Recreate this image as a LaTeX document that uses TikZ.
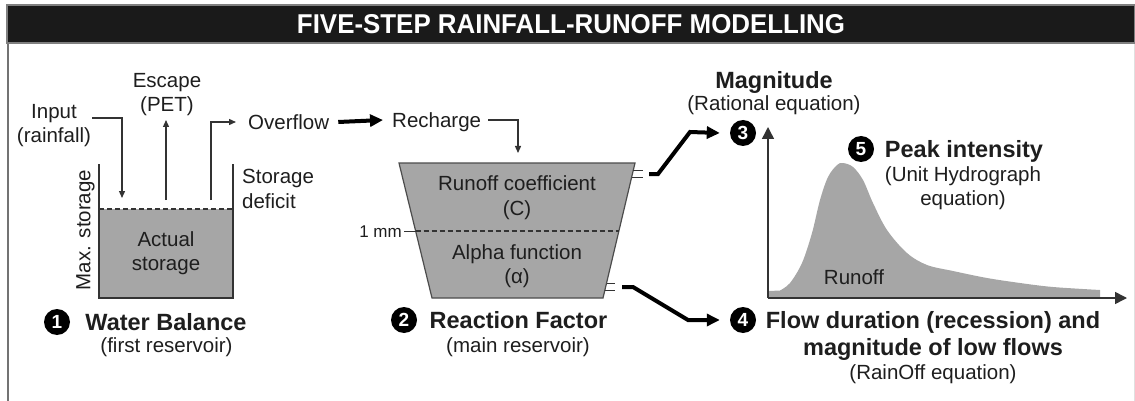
\documentclass[tikz,border=0pt]{standalone}
\usepackage{fontspec}
\setmainfont{Liberation Sans}
\usetikzlibrary{arrows.meta}
\definecolor{txt}{HTML}{1E1E1E}
\definecolor{ln}{HTML}{333333}
\definecolor{fillg}{HTML}{A6A6A6}
\definecolor{barc}{HTML}{1A1A1A}
\tikzset{
  lbl/.style={text=txt, font=\fontsize{20.5}{24.5}\selectfont, inner sep=0pt, align=center},
  one/.style={text height=18pt, text depth=3.3pt},
  hdr/.style={text=txt, font=\fontsize{23.5}{27}\selectfont\bfseries, inner sep=0pt, align=center},
  hone/.style={text height=20pt, text depth=3.2pt},
  smalllbl/.style={text=txt, font=\fontsize{17}{20}\selectfont, inner sep=0pt, text height=14pt, text depth=2pt},
  numc/.style={circle, fill=black, text=white, font=\fontsize{19}{19}\selectfont\bfseries, inner sep=0pt, minimum size=26pt},
  thinln/.style={draw=ln, line width=1.3pt},
  thinarrow/.style={thinln, -{Triangle[length=7pt,width=6pt]}},
  thickln/.style={draw=black, line width=4pt},
  thickarrow/.style={thickln, -{Triangle[length=13pt,width=12pt]}},
  axisarrow/.style={draw=ln, line width=1.5pt, -{Triangle[length=12pt,width=12pt]}},
}
\begin{document}
\begin{tikzpicture}[x=1pt,y=-1pt]
\useasboundingbox (0,0) rectangle (1135,401);
% frame
\draw[draw=gray!90!black, line width=2pt] (8,43) -- (8,401);
\draw[draw=black!12, line width=1pt] (1134.5,43) -- (1134.5,401);
\node[draw=gray, line width=1.5pt, fill=barc, minimum width=1128pt, minimum height=38pt, inner sep=0pt] (bar) at (571,24) {};
\node[text=white, inner sep=0pt] (title) at (bar.center)
  {\resizebox{548pt}{19pt}{\bfseries FIVE-STEP RAINFALL-RUNOFF MODELLING}};

% ---- step 1: water balance tank
\fill[fillg] (99,209) rectangle (233,298);
\draw[thinln] (99,164) -- (99,298) -- (233,298) -- (233,164);
\draw[thinln, dashed, dash pattern=on 5pt off 3pt] (99,209) -- (233,209);
\node[lbl] (inp) at (54,125.5) {Input\\(rainfall)};
\node[lbl] (esc) at (167,94.5) {Escape\\(PET)};
\node[lbl, one, anchor=west] (ovf) at (248,122) {Overflow};
\node[lbl, one, rotate=90] (maxs) at (83,230) {Max. storage};
\node[lbl] (act) at (166,253) {Actual\\storage};
\node[lbl, align=left, anchor=west] (def) at (242,189) {Storage\\deficit};
\coordinate (inA) at (92,118);
\coordinate (inB) at (122,198);
\draw[thinarrow] (inA) -| (inB);
\coordinate (escA) at (166,200);
\coordinate (escB) at (166,120);
\draw[thinarrow] (escA) -- (escB);
\coordinate (ovA) at (211,200);
\draw[thinarrow] (ovA) |- ([xshift=-12pt]ovf.west);
\node[numc] (n1) at (57,322) {1};
\node[hdr, hone] (wb) at (166,322) {Water Balance};
\node[lbl, one] (wbs) at (166.5,345) {(first reservoir)};

% ---- step 2: reaction factor tank
\node[lbl, one, anchor=west] (rch) at (392,120) {Recharge};
\draw[thickarrow] ([xshift=9pt]ovf.east) -- ([xshift=-9pt]rch.west);
\coordinate (rchB) at (518,153);
\draw[thinarrow] ([xshift=7pt]rch.east) -| (rchB);
\draw[draw=black!70, line width=1.2pt, fill=fillg] (399,163) -- (635,163) -- (603,298) -- (432,298) -- cycle;
\draw[thinln, dashed, dash pattern=on 5pt off 3pt] (415.6,231) -- (619,231);
\node[smalllbl, anchor=east] (mm) at (402,231) {1 mm};
\coordinate (mmB) at (416,231);
\draw[draw=ln, line width=1pt] ([xshift=2pt]mm.east) -- (mmB);
\node[lbl] (rc) at (517,197.5) {Runoff coefficient\\(C)};
\node[lbl] (af) at (517,266) {Alpha function\\(α)};
% outlets
\draw[draw=ln, line width=1pt] (633.3,170) -- (643,170) (631.7,177) -- (643,177);
\draw[draw=ln, line width=1pt] (606.6,283) -- (615,283) (604.9,290) -- (615,290);
\node[numc] (n2) at (404,320) {2};
\node[hdr, hone] (rf) at (518.5,320) {Reaction Factor};
\node[lbl, one] (rfs) at (518,345) {(main reservoir)};

% ---- hydrograph
\node[numc] (n3) at (743,133) {3};
\node[numc] (n4) at (743,320) {4};
\node[numc] (n5) at (861,149) {5};
\coordinate (up1) at (649,174);
\coordinate (up2) at (658,174);
\coordinate (up3) at (690,132);
\draw[thickarrow] (up1) -- (up2) -- (up3) -- ([xshift=-10pt]n3.west);
\coordinate (lo1) at (622,287);
\coordinate (lo2) at (633,287);
\coordinate (lo3) at (688,320);
\draw[thickarrow] (lo1) -- (lo2) -- (lo3) -- ([xshift=-10pt]n4.west);

\fill[fillg] (769,297) -- (769,291)
  -- plot[smooth, tension=0.55] coordinates {(780,290.5) (790,283) (802,263) (812,233) (820,200) (828,177) (837,165) (843,163) (853,167) (863,180) (873,203) (887,230) (907,253) (927,265) (953,271) (987,278) (1020,283) (1053,287) (1100,290)}
  -- (1100,297) -- cycle;
\coordinate (orig) at (768,298);
\coordinate (ytip) at (768,127);
\coordinate (xtip) at (1127,298);
\draw[axisarrow] (orig) -- (ytip);
\draw[axisarrow] (orig) -- (xtip);
\node[lbl, one] (ro) at (854,277) {Runoff};

\node[hdr, hone] (mag) at (774,80) {Magnitude};
\node[lbl, one] (rat) at (774,103) {(Rational equation)};
\node[hdr, hone] (pk) at (964,149) {Peak intensity};
\node[lbl] (uh) at (963,188) {(Unit Hydrograph\\equation)};
\node[hdr] (fd) at (933,335.7) {Flow duration (recession) and\\magnitude of low flows};
\node[lbl, one] (roe) at (933,372) {(RainOff equation)};
\end{tikzpicture}
\end{document}
